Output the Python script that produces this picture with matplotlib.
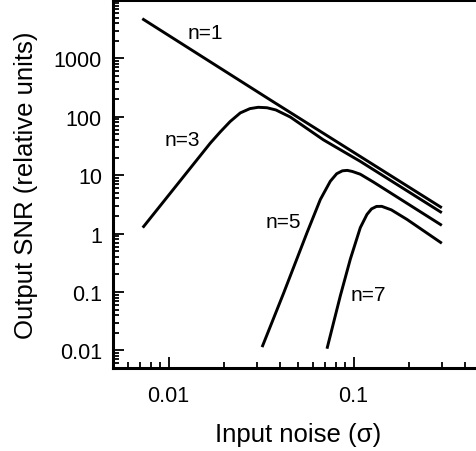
#!/usr/bin/env python3
import numpy as np
import matplotlib
matplotlib.use("Agg")
import matplotlib.pyplot as plt
from matplotlib.ticker import LogLocator, NullFormatter, FixedLocator, FixedFormatter

# curves (noise sigma, output SNR)
n1_x = [0.0072, 0.0355, 0.30]
n1_y = [4786, 194, 2.77]
n3_x = [0.00724, 0.0168, 0.0190, 0.0215, 0.0244, 0.0275, 0.0305, 0.0340, 0.0380, 0.0455, 0.0686, 0.1087, 0.30]
n3_y = [1.265, 35.5, 55.0, 83.0, 116.7, 138.0, 145.5, 143.0, 131.0, 99.0, 40.4, 17.25, 2.28]
n5_x = [0.0320, 0.0418, 0.0560, 0.0661, 0.0748, 0.0810, 0.0870, 0.0925, 0.0984, 0.1087, 0.1283, 0.30]
n5_y = [0.0114, 0.095, 1.04, 3.84, 7.87, 10.6, 11.9, 12.1, 11.6, 10.4, 7.6, 1.385]
n7_x = [0.0718, 0.0848, 0.0960, 0.1087, 0.1181, 0.1250, 0.1330, 0.1420, 0.1600, 0.1944, 0.30]
n7_y = [0.0107, 0.0865, 0.365, 1.265, 2.13, 2.65, 2.92, 2.93, 2.55, 1.75, 0.684]
labels = ["n=1", "n=3", "n=5", "n=7"]
label_x = [0.0158, 0.0118, 0.0419, 0.1208]
label_y = [2800, 40.4, 1.59, 0.0925]
xticks = [0.01, 0.1]
xtick_labels = ["0.01", "0.1"]
yticks = [0.01, 0.1, 1, 10, 100, 1000]
ytick_labels = ["0.01", "0.1", "1", "10", "100", "1000"]

plt.rcParams["font.family"] = ["Liberation Sans", "DejaVu Sans"]

fig = plt.figure(figsize=(4.76, 4.52), dpi=100)
ax = fig.add_axes([0.2374, 0.1836, 0.777, 0.8142])
for xs, ys in [(n1_x, n1_y), (n3_x, n3_y), (n5_x, n5_y), (n7_x, n7_y)]:
    ax.plot(xs, ys, color="black", lw=2.1, solid_joinstyle="round", solid_capstyle="butt")
for t, x, y in zip(labels, label_x, label_y):
    ax.text(x, y, t, fontsize=15, ha="center", va="center")

ax.set_xscale("log"); ax.set_yscale("log")
ax.set_xlim(0.005, 0.5); ax.set_ylim(0.005, 1e4)
ax.xaxis.set_major_locator(FixedLocator(xticks)); ax.xaxis.set_major_formatter(FixedFormatter(xtick_labels))
ax.yaxis.set_major_locator(FixedLocator(yticks)); ax.yaxis.set_major_formatter(FixedFormatter(ytick_labels))
ax.xaxis.set_minor_locator(LogLocator(base=10, subs=np.arange(2, 10), numticks=20))
ax.yaxis.set_minor_locator(LogLocator(base=10, subs=np.arange(2, 10), numticks=20))
ax.xaxis.set_minor_formatter(NullFormatter()); ax.yaxis.set_minor_formatter(NullFormatter())
ax.tick_params(which="both", direction="in", top=False, right=False, width=1.3, labelsize=15.5)
ax.tick_params(which="major", length=8)
ax.tick_params(which="minor", length=4)
ax.tick_params(axis="x", which="major", pad=12)
ax.tick_params(axis="y", which="major", pad=8)
for s in ax.spines.values():
    s.set_linewidth(2.2)
ax.set_xlabel("Input noise (\u03c3)", fontsize=18.5, labelpad=12)
ax.set_ylabel("Output SNR (relative units)", fontsize=18.5, labelpad=11)
fig.savefig("out.png", dpi=100)
